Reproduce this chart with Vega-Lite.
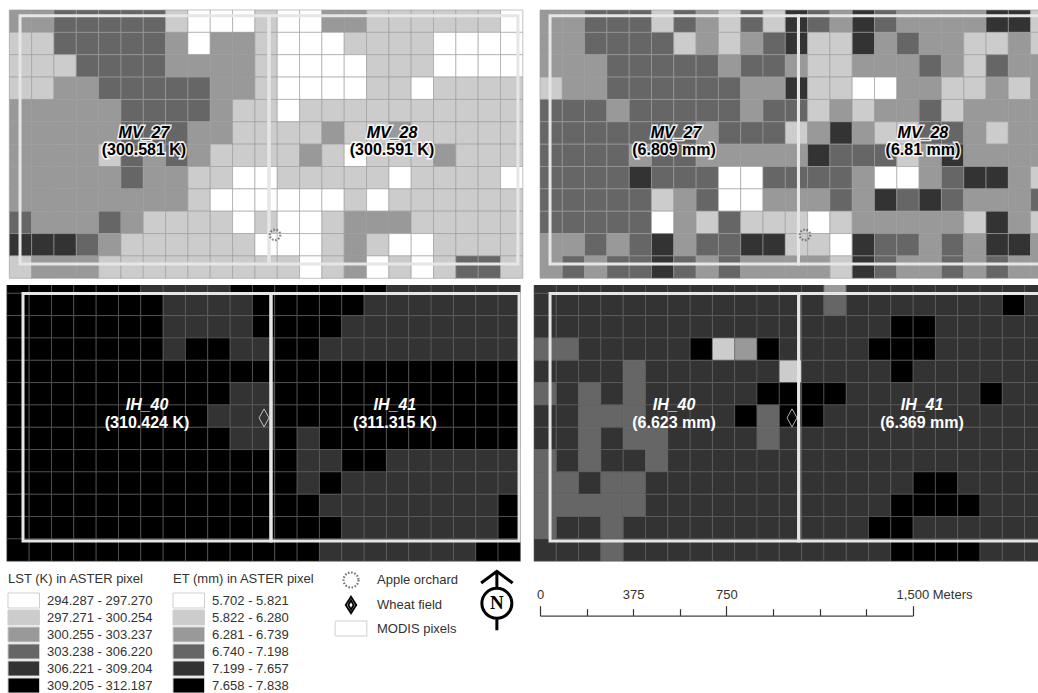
{"$schema":"https://vega.github.io/schema/vega-lite/v6.json","padding":0,"background":"white","spacing":0,"config":{"view":{"stroke":null},"font":"Liberation Sans","concat":{"spacing":0}},
"datasets":{
"p1":[
{"c":0,"r":0,"k":2},{"c":1,"r":0,"k":2},{"c":2,"r":0,"k":3},{"c":3,"r":0,"k":3},{"c":4,"r":0,"k":3},{"c":5,"r":0,"k":3},{"c":6,"r":0,"k":3},{"c":7,"r":0,"k":1},{"c":8,"r":0,"k":0},{"c":9,"r":0,"k":0},{"c":10,"r":0,"k":0},{"c":11,"r":0,"k":1},{"c":12,"r":0,"k":0},{"c":13,"r":0,"k":0},{"c":14,"r":0,"k":2},{"c":15,"r":0,"k":2},{"c":16,"r":0,"k":1},{"c":17,"r":0,"k":1},{"c":18,"r":0,"k":1},{"c":19,"r":0,"k":1},{"c":20,"r":0,"k":1},{"c":21,"r":0,"k":1},{"c":22,"r":0,"k":0},
{"c":0,"r":1,"k":1},{"c":1,"r":1,"k":1},{"c":2,"r":1,"k":3},{"c":3,"r":1,"k":3},{"c":4,"r":1,"k":3},{"c":5,"r":1,"k":3},{"c":6,"r":1,"k":3},{"c":7,"r":1,"k":2},{"c":8,"r":1,"k":0},{"c":9,"r":1,"k":2},{"c":10,"r":1,"k":2},{"c":11,"r":1,"k":1},{"c":12,"r":1,"k":0},{"c":13,"r":1,"k":0},{"c":14,"r":1,"k":0},{"c":15,"r":1,"k":1},{"c":16,"r":1,"k":1},{"c":17,"r":1,"k":1},{"c":18,"r":1,"k":1},{"c":19,"r":1,"k":0},{"c":20,"r":1,"k":0},{"c":21,"r":1,"k":0},{"c":22,"r":1,"k":0},
{"c":0,"r":2,"k":1},{"c":1,"r":2,"k":1},{"c":2,"r":2,"k":1},{"c":3,"r":2,"k":3},{"c":4,"r":2,"k":3},{"c":5,"r":2,"k":3},{"c":6,"r":2,"k":3},{"c":7,"r":2,"k":2},{"c":8,"r":2,"k":2},{"c":9,"r":2,"k":2},{"c":10,"r":2,"k":2},{"c":11,"r":2,"k":1},{"c":12,"r":2,"k":0},{"c":13,"r":2,"k":0},{"c":14,"r":2,"k":0},{"c":15,"r":2,"k":0},{"c":16,"r":2,"k":1},{"c":17,"r":2,"k":1},{"c":18,"r":2,"k":1},{"c":19,"r":2,"k":0},{"c":20,"r":2,"k":0},{"c":21,"r":2,"k":0},{"c":22,"r":2,"k":0},
{"c":0,"r":3,"k":1},{"c":1,"r":3,"k":1},{"c":2,"r":3,"k":2},{"c":3,"r":3,"k":2},{"c":4,"r":3,"k":3},{"c":5,"r":3,"k":3},{"c":6,"r":3,"k":3},{"c":7,"r":3,"k":3},{"c":8,"r":3,"k":3},{"c":9,"r":3,"k":2},{"c":10,"r":3,"k":2},{"c":11,"r":3,"k":1},{"c":12,"r":3,"k":0},{"c":13,"r":3,"k":0},{"c":14,"r":3,"k":0},{"c":15,"r":3,"k":0},{"c":16,"r":3,"k":1},{"c":17,"r":3,"k":1},{"c":18,"r":3,"k":0},{"c":19,"r":3,"k":1},{"c":20,"r":3,"k":1},{"c":21,"r":3,"k":1},{"c":22,"r":3,"k":1},
{"c":0,"r":4,"k":2},{"c":1,"r":4,"k":2},{"c":2,"r":4,"k":2},{"c":3,"r":4,"k":2},{"c":4,"r":4,"k":2},{"c":5,"r":4,"k":3},{"c":6,"r":4,"k":3},{"c":7,"r":4,"k":3},{"c":8,"r":4,"k":3},{"c":9,"r":4,"k":2},{"c":10,"r":4,"k":1},{"c":11,"r":4,"k":1},{"c":12,"r":4,"k":0},{"c":13,"r":4,"k":1},{"c":14,"r":4,"k":1},{"c":15,"r":4,"k":1},{"c":16,"r":4,"k":1},{"c":17,"r":4,"k":1},{"c":18,"r":4,"k":1},{"c":19,"r":4,"k":1},{"c":20,"r":4,"k":1},{"c":21,"r":4,"k":1},{"c":22,"r":4,"k":1},
{"c":0,"r":5,"k":2},{"c":1,"r":5,"k":2},{"c":2,"r":5,"k":2},{"c":3,"r":5,"k":2},{"c":4,"r":5,"k":2},{"c":5,"r":5,"k":3},{"c":6,"r":5,"k":3},{"c":7,"r":5,"k":3},{"c":8,"r":5,"k":2},{"c":9,"r":5,"k":2},{"c":10,"r":5,"k":1},{"c":11,"r":5,"k":1},{"c":12,"r":5,"k":1},{"c":13,"r":5,"k":1},{"c":14,"r":5,"k":2},{"c":15,"r":5,"k":1},{"c":16,"r":5,"k":1},{"c":17,"r":5,"k":2},{"c":18,"r":5,"k":1},{"c":19,"r":5,"k":1},{"c":20,"r":5,"k":1},{"c":21,"r":5,"k":1},{"c":22,"r":5,"k":1},
{"c":0,"r":6,"k":2},{"c":1,"r":6,"k":2},{"c":2,"r":6,"k":2},{"c":3,"r":6,"k":2},{"c":4,"r":6,"k":1},{"c":5,"r":6,"k":3},{"c":6,"r":6,"k":2},{"c":7,"r":6,"k":3},{"c":8,"r":6,"k":2},{"c":9,"r":6,"k":1},{"c":10,"r":6,"k":1},{"c":11,"r":6,"k":1},{"c":12,"r":6,"k":1},{"c":13,"r":6,"k":2},{"c":14,"r":6,"k":1},{"c":15,"r":6,"k":0},{"c":16,"r":6,"k":1},{"c":17,"r":6,"k":1},{"c":18,"r":6,"k":1},{"c":19,"r":6,"k":2},{"c":20,"r":6,"k":1},{"c":21,"r":6,"k":1},{"c":22,"r":6,"k":1},
{"c":0,"r":7,"k":2},{"c":1,"r":7,"k":2},{"c":2,"r":7,"k":2},{"c":3,"r":7,"k":2},{"c":4,"r":7,"k":2},{"c":5,"r":7,"k":3},{"c":6,"r":7,"k":2},{"c":7,"r":7,"k":2},{"c":8,"r":7,"k":1},{"c":9,"r":7,"k":1},{"c":10,"r":7,"k":0},{"c":11,"r":7,"k":0},{"c":12,"r":7,"k":1},{"c":13,"r":7,"k":1},{"c":14,"r":7,"k":1},{"c":15,"r":7,"k":1},{"c":16,"r":7,"k":1},{"c":17,"r":7,"k":0},{"c":18,"r":7,"k":1},{"c":19,"r":7,"k":1},{"c":20,"r":7,"k":1},{"c":21,"r":7,"k":1},{"c":22,"r":7,"k":0},
{"c":0,"r":8,"k":2},{"c":1,"r":8,"k":2},{"c":2,"r":8,"k":2},{"c":3,"r":8,"k":2},{"c":4,"r":8,"k":2},{"c":5,"r":8,"k":2},{"c":6,"r":8,"k":2},{"c":7,"r":8,"k":2},{"c":8,"r":8,"k":1},{"c":9,"r":8,"k":0},{"c":10,"r":8,"k":0},{"c":11,"r":8,"k":0},{"c":12,"r":8,"k":0},{"c":13,"r":8,"k":0},{"c":14,"r":8,"k":0},{"c":15,"r":8,"k":1},{"c":16,"r":8,"k":0},{"c":17,"r":8,"k":1},{"c":18,"r":8,"k":1},{"c":19,"r":8,"k":1},{"c":20,"r":8,"k":1},{"c":21,"r":8,"k":1},{"c":22,"r":8,"k":1},
{"c":0,"r":9,"k":3},{"c":1,"r":9,"k":2},{"c":2,"r":9,"k":2},{"c":3,"r":9,"k":2},{"c":4,"r":9,"k":3},{"c":5,"r":9,"k":2},{"c":6,"r":9,"k":1},{"c":7,"r":9,"k":1},{"c":8,"r":9,"k":1},{"c":9,"r":9,"k":1},{"c":10,"r":9,"k":0},{"c":11,"r":9,"k":1},{"c":12,"r":9,"k":0},{"c":13,"r":9,"k":0},{"c":14,"r":9,"k":1},{"c":15,"r":9,"k":2},{"c":16,"r":9,"k":2},{"c":17,"r":9,"k":2},{"c":18,"r":9,"k":1},{"c":19,"r":9,"k":1},{"c":20,"r":9,"k":1},{"c":21,"r":9,"k":1},{"c":22,"r":9,"k":1},
{"c":0,"r":10,"k":4},{"c":1,"r":10,"k":4},{"c":2,"r":10,"k":4},{"c":3,"r":10,"k":3},{"c":4,"r":10,"k":2},{"c":5,"r":10,"k":1},{"c":6,"r":10,"k":1},{"c":7,"r":10,"k":1},{"c":8,"r":10,"k":1},{"c":9,"r":10,"k":1},{"c":10,"r":10,"k":1},{"c":11,"r":10,"k":0},{"c":12,"r":10,"k":0},{"c":13,"r":10,"k":0},{"c":14,"r":10,"k":1},{"c":15,"r":10,"k":2},{"c":16,"r":10,"k":1},{"c":17,"r":10,"k":0},{"c":18,"r":10,"k":0},{"c":19,"r":10,"k":1},{"c":20,"r":10,"k":1},{"c":21,"r":10,"k":1},{"c":22,"r":10,"k":1},
{"c":0,"r":11,"k":1},{"c":1,"r":11,"k":2},{"c":2,"r":11,"k":2},{"c":3,"r":11,"k":2},{"c":4,"r":11,"k":1},{"c":5,"r":11,"k":1},{"c":6,"r":11,"k":1},{"c":7,"r":11,"k":1},{"c":8,"r":11,"k":1},{"c":9,"r":11,"k":1},{"c":10,"r":11,"k":1},{"c":11,"r":11,"k":1},{"c":12,"r":11,"k":1},{"c":13,"r":11,"k":0},{"c":14,"r":11,"k":1},{"c":15,"r":11,"k":2},{"c":16,"r":11,"k":0},{"c":17,"r":11,"k":1},{"c":18,"r":11,"k":0},{"c":19,"r":11,"k":1},{"c":20,"r":11,"k":3},{"c":21,"r":11,"k":3},{"c":22,"r":11,"k":1}],
"p2":[
{"c":0,"r":0,"k":2},{"c":1,"r":0,"k":2},{"c":2,"r":0,"k":3},{"c":3,"r":0,"k":3},{"c":4,"r":0,"k":3},{"c":5,"r":0,"k":1},{"c":6,"r":0,"k":3},{"c":7,"r":0,"k":2},{"c":8,"r":0,"k":1},{"c":9,"r":0,"k":3},{"c":10,"r":0,"k":1},{"c":11,"r":0,"k":4},{"c":12,"r":0,"k":3},{"c":13,"r":0,"k":2},{"c":14,"r":0,"k":4},{"c":15,"r":0,"k":3},{"c":16,"r":0,"k":2},{"c":17,"r":0,"k":2},{"c":18,"r":0,"k":2},{"c":19,"r":0,"k":2},{"c":20,"r":0,"k":4},{"c":21,"r":0,"k":4},{"c":22,"r":0,"k":1},
{"c":0,"r":1,"k":2},{"c":1,"r":1,"k":2},{"c":2,"r":1,"k":3},{"c":3,"r":1,"k":3},{"c":4,"r":1,"k":3},{"c":5,"r":1,"k":3},{"c":6,"r":1,"k":1},{"c":7,"r":1,"k":2},{"c":8,"r":1,"k":1},{"c":9,"r":1,"k":2},{"c":10,"r":1,"k":3},{"c":11,"r":1,"k":4},{"c":12,"r":1,"k":1},{"c":13,"r":1,"k":1},{"c":14,"r":1,"k":4},{"c":15,"r":1,"k":2},{"c":16,"r":1,"k":3},{"c":17,"r":1,"k":2},{"c":18,"r":1,"k":2},{"c":19,"r":1,"k":1},{"c":20,"r":1,"k":1},{"c":21,"r":1,"k":2},{"c":22,"r":1,"k":1},
{"c":0,"r":2,"k":2},{"c":1,"r":2,"k":2},{"c":2,"r":2,"k":2},{"c":3,"r":2,"k":3},{"c":4,"r":2,"k":3},{"c":5,"r":2,"k":3},{"c":6,"r":2,"k":3},{"c":7,"r":2,"k":3},{"c":8,"r":2,"k":2},{"c":9,"r":2,"k":3},{"c":10,"r":2,"k":3},{"c":11,"r":2,"k":2},{"c":12,"r":2,"k":1},{"c":13,"r":2,"k":1},{"c":14,"r":2,"k":2},{"c":15,"r":2,"k":2},{"c":16,"r":2,"k":2},{"c":17,"r":2,"k":3},{"c":18,"r":2,"k":2},{"c":19,"r":2,"k":1},{"c":20,"r":2,"k":3},{"c":21,"r":2,"k":2},{"c":22,"r":2,"k":2},
{"c":0,"r":3,"k":1},{"c":1,"r":3,"k":2},{"c":2,"r":3,"k":2},{"c":3,"r":3,"k":3},{"c":4,"r":3,"k":3},{"c":5,"r":3,"k":3},{"c":6,"r":3,"k":3},{"c":7,"r":3,"k":3},{"c":8,"r":3,"k":3},{"c":9,"r":3,"k":2},{"c":10,"r":3,"k":2},{"c":11,"r":3,"k":4},{"c":12,"r":3,"k":1},{"c":13,"r":3,"k":1},{"c":14,"r":3,"k":0},{"c":15,"r":3,"k":0},{"c":16,"r":3,"k":2},{"c":17,"r":3,"k":2},{"c":18,"r":3,"k":1},{"c":19,"r":3,"k":1},{"c":20,"r":3,"k":2},{"c":21,"r":3,"k":1},{"c":22,"r":3,"k":2},
{"c":0,"r":4,"k":3},{"c":1,"r":4,"k":3},{"c":2,"r":4,"k":3},{"c":3,"r":4,"k":2},{"c":4,"r":4,"k":3},{"c":5,"r":4,"k":3},{"c":6,"r":4,"k":3},{"c":7,"r":4,"k":3},{"c":8,"r":4,"k":3},{"c":9,"r":4,"k":2},{"c":10,"r":4,"k":3},{"c":11,"r":4,"k":3},{"c":12,"r":4,"k":1},{"c":13,"r":4,"k":2},{"c":14,"r":4,"k":1},{"c":15,"r":4,"k":2},{"c":16,"r":4,"k":2},{"c":17,"r":4,"k":3},{"c":18,"r":4,"k":1},{"c":19,"r":4,"k":2},{"c":20,"r":4,"k":2},{"c":21,"r":4,"k":2},{"c":22,"r":4,"k":2},
{"c":0,"r":5,"k":3},{"c":1,"r":5,"k":3},{"c":2,"r":5,"k":3},{"c":3,"r":5,"k":3},{"c":4,"r":5,"k":3},{"c":5,"r":5,"k":3},{"c":6,"r":5,"k":3},{"c":7,"r":5,"k":2},{"c":8,"r":5,"k":3},{"c":9,"r":5,"k":3},{"c":10,"r":5,"k":3},{"c":11,"r":5,"k":1},{"c":12,"r":5,"k":2},{"c":13,"r":5,"k":4},{"c":14,"r":5,"k":2},{"c":15,"r":5,"k":1},{"c":16,"r":5,"k":1},{"c":17,"r":5,"k":3},{"c":18,"r":5,"k":3},{"c":19,"r":5,"k":2},{"c":20,"r":5,"k":1},{"c":21,"r":5,"k":2},{"c":22,"r":5,"k":2},
{"c":0,"r":6,"k":3},{"c":1,"r":6,"k":3},{"c":2,"r":6,"k":3},{"c":3,"r":6,"k":3},{"c":4,"r":6,"k":2},{"c":5,"r":6,"k":3},{"c":6,"r":6,"k":3},{"c":7,"r":6,"k":2},{"c":8,"r":6,"k":2},{"c":9,"r":6,"k":2},{"c":10,"r":6,"k":2},{"c":11,"r":6,"k":2},{"c":12,"r":6,"k":4},{"c":13,"r":6,"k":3},{"c":14,"r":6,"k":3},{"c":15,"r":6,"k":3},{"c":16,"r":6,"k":1},{"c":17,"r":6,"k":2},{"c":18,"r":6,"k":4},{"c":19,"r":6,"k":2},{"c":20,"r":6,"k":2},{"c":21,"r":6,"k":2},{"c":22,"r":6,"k":2},
{"c":0,"r":7,"k":3},{"c":1,"r":7,"k":3},{"c":2,"r":7,"k":3},{"c":3,"r":7,"k":3},{"c":4,"r":7,"k":4},{"c":5,"r":7,"k":3},{"c":6,"r":7,"k":3},{"c":7,"r":7,"k":3},{"c":8,"r":7,"k":0},{"c":9,"r":7,"k":0},{"c":10,"r":7,"k":3},{"c":11,"r":7,"k":3},{"c":12,"r":7,"k":3},{"c":13,"r":7,"k":3},{"c":14,"r":7,"k":2},{"c":15,"r":7,"k":0},{"c":16,"r":7,"k":0},{"c":17,"r":7,"k":2},{"c":18,"r":7,"k":3},{"c":19,"r":7,"k":4},{"c":20,"r":7,"k":4},{"c":21,"r":7,"k":2},{"c":22,"r":7,"k":1},
{"c":0,"r":8,"k":3},{"c":1,"r":8,"k":3},{"c":2,"r":8,"k":3},{"c":3,"r":8,"k":3},{"c":4,"r":8,"k":3},{"c":5,"r":8,"k":1},{"c":6,"r":8,"k":2},{"c":7,"r":8,"k":3},{"c":8,"r":8,"k":0},{"c":9,"r":8,"k":0},{"c":10,"r":8,"k":2},{"c":11,"r":8,"k":2},{"c":12,"r":8,"k":2},{"c":13,"r":8,"k":3},{"c":14,"r":8,"k":2},{"c":15,"r":8,"k":4},{"c":16,"r":8,"k":3},{"c":17,"r":8,"k":4},{"c":18,"r":8,"k":3},{"c":19,"r":8,"k":2},{"c":20,"r":8,"k":2},{"c":21,"r":8,"k":2},{"c":22,"r":8,"k":3},
{"c":0,"r":9,"k":3},{"c":1,"r":9,"k":3},{"c":2,"r":9,"k":3},{"c":3,"r":9,"k":3},{"c":4,"r":9,"k":3},{"c":5,"r":9,"k":0},{"c":6,"r":9,"k":2},{"c":7,"r":9,"k":1},{"c":8,"r":9,"k":3},{"c":9,"r":9,"k":1},{"c":10,"r":9,"k":1},{"c":11,"r":9,"k":1},{"c":12,"r":9,"k":0},{"c":13,"r":9,"k":1},{"c":14,"r":9,"k":2},{"c":15,"r":9,"k":2},{"c":16,"r":9,"k":2},{"c":17,"r":9,"k":2},{"c":18,"r":9,"k":2},{"c":19,"r":9,"k":1},{"c":20,"r":9,"k":4},{"c":21,"r":9,"k":2},{"c":22,"r":9,"k":1},
{"c":0,"r":10,"k":2},{"c":1,"r":10,"k":2},{"c":2,"r":10,"k":3},{"c":3,"r":10,"k":2},{"c":4,"r":10,"k":3},{"c":5,"r":10,"k":4},{"c":6,"r":10,"k":2},{"c":7,"r":10,"k":3},{"c":8,"r":10,"k":3},{"c":9,"r":10,"k":4},{"c":10,"r":10,"k":4},{"c":11,"r":10,"k":1},{"c":12,"r":10,"k":1},{"c":13,"r":10,"k":0},{"c":14,"r":10,"k":4},{"c":15,"r":10,"k":3},{"c":16,"r":10,"k":3},{"c":17,"r":10,"k":2},{"c":18,"r":10,"k":3},{"c":19,"r":10,"k":2},{"c":20,"r":10,"k":4},{"c":21,"r":10,"k":4},{"c":22,"r":10,"k":2},
{"c":0,"r":11,"k":2},{"c":1,"r":11,"k":3},{"c":2,"r":11,"k":2},{"c":3,"r":11,"k":3},{"c":4,"r":11,"k":3},{"c":5,"r":11,"k":4},{"c":6,"r":11,"k":3},{"c":7,"r":11,"k":2},{"c":8,"r":11,"k":3},{"c":9,"r":11,"k":2},{"c":10,"r":11,"k":2},{"c":11,"r":11,"k":2},{"c":12,"r":11,"k":2},{"c":13,"r":11,"k":1},{"c":14,"r":11,"k":4},{"c":15,"r":11,"k":3},{"c":16,"r":11,"k":2},{"c":17,"r":11,"k":2},{"c":18,"r":11,"k":3},{"c":19,"r":11,"k":2},{"c":20,"r":11,"k":3},{"c":21,"r":11,"k":2},{"c":22,"r":11,"k":2}],
"p3":[
{"c":0,"r":-1,"k":5},{"c":1,"r":-1,"k":5},{"c":2,"r":-1,"k":5},{"c":3,"r":-1,"k":5},{"c":4,"r":-1,"k":5},{"c":5,"r":-1,"k":5},{"c":6,"r":-1,"k":4},{"c":7,"r":-1,"k":4},{"c":8,"r":-1,"k":4},{"c":9,"r":-1,"k":4},{"c":10,"r":-1,"k":5},{"c":11,"r":-1,"k":5},{"c":12,"r":-1,"k":5},{"c":13,"r":-1,"k":5},{"c":14,"r":-1,"k":5},{"c":15,"r":-1,"k":5},{"c":16,"r":-1,"k":5},{"c":17,"r":-1,"k":4},{"c":18,"r":-1,"k":4},{"c":19,"r":-1,"k":4},{"c":20,"r":-1,"k":4},{"c":21,"r":-1,"k":4},{"c":22,"r":-1,"k":4},
{"c":0,"r":0,"k":5},{"c":1,"r":0,"k":5},{"c":2,"r":0,"k":5},{"c":3,"r":0,"k":5},{"c":4,"r":0,"k":5},{"c":5,"r":0,"k":5},{"c":6,"r":0,"k":5},{"c":7,"r":0,"k":4},{"c":8,"r":0,"k":4},{"c":9,"r":0,"k":4},{"c":10,"r":0,"k":4},{"c":11,"r":0,"k":5},{"c":12,"r":0,"k":5},{"c":13,"r":0,"k":5},{"c":14,"r":0,"k":5},{"c":15,"r":0,"k":5},{"c":16,"r":0,"k":4},{"c":17,"r":0,"k":4},{"c":18,"r":0,"k":4},{"c":19,"r":0,"k":4},{"c":20,"r":0,"k":4},{"c":21,"r":0,"k":4},{"c":22,"r":0,"k":4},
{"c":0,"r":1,"k":5},{"c":1,"r":1,"k":5},{"c":2,"r":1,"k":5},{"c":3,"r":1,"k":5},{"c":4,"r":1,"k":5},{"c":5,"r":1,"k":5},{"c":6,"r":1,"k":5},{"c":7,"r":1,"k":4},{"c":8,"r":1,"k":4},{"c":9,"r":1,"k":4},{"c":10,"r":1,"k":4},{"c":11,"r":1,"k":5},{"c":12,"r":1,"k":5},{"c":13,"r":1,"k":5},{"c":14,"r":1,"k":5},{"c":15,"r":1,"k":4},{"c":16,"r":1,"k":4},{"c":17,"r":1,"k":4},{"c":18,"r":1,"k":4},{"c":19,"r":1,"k":4},{"c":20,"r":1,"k":4},{"c":21,"r":1,"k":4},{"c":22,"r":1,"k":4},
{"c":0,"r":2,"k":5},{"c":1,"r":2,"k":5},{"c":2,"r":2,"k":5},{"c":3,"r":2,"k":5},{"c":4,"r":2,"k":5},{"c":5,"r":2,"k":5},{"c":6,"r":2,"k":5},{"c":7,"r":2,"k":4},{"c":8,"r":2,"k":5},{"c":9,"r":2,"k":5},{"c":10,"r":2,"k":4},{"c":11,"r":2,"k":4},{"c":12,"r":2,"k":5},{"c":13,"r":2,"k":5},{"c":14,"r":2,"k":4},{"c":15,"r":2,"k":4},{"c":16,"r":2,"k":4},{"c":17,"r":2,"k":4},{"c":18,"r":2,"k":4},{"c":19,"r":2,"k":4},{"c":20,"r":2,"k":4},{"c":21,"r":2,"k":4},{"c":22,"r":2,"k":4},
{"c":0,"r":3,"k":5},{"c":1,"r":3,"k":5},{"c":2,"r":3,"k":5},{"c":3,"r":3,"k":5},{"c":4,"r":3,"k":5},{"c":5,"r":3,"k":5},{"c":6,"r":3,"k":5},{"c":7,"r":3,"k":5},{"c":8,"r":3,"k":5},{"c":9,"r":3,"k":5},{"c":10,"r":3,"k":5},{"c":11,"r":3,"k":5},{"c":12,"r":3,"k":5},{"c":13,"r":3,"k":5},{"c":14,"r":3,"k":5},{"c":15,"r":3,"k":5},{"c":16,"r":3,"k":5},{"c":17,"r":3,"k":5},{"c":18,"r":3,"k":5},{"c":19,"r":3,"k":5},{"c":20,"r":3,"k":5},{"c":21,"r":3,"k":5},{"c":22,"r":3,"k":5},
{"c":0,"r":4,"k":5},{"c":1,"r":4,"k":5},{"c":2,"r":4,"k":5},{"c":3,"r":4,"k":5},{"c":4,"r":4,"k":5},{"c":5,"r":4,"k":5},{"c":6,"r":4,"k":5},{"c":7,"r":4,"k":5},{"c":8,"r":4,"k":5},{"c":9,"r":4,"k":5},{"c":10,"r":4,"k":4},{"c":11,"r":4,"k":4},{"c":12,"r":4,"k":5},{"c":13,"r":4,"k":5},{"c":14,"r":4,"k":5},{"c":15,"r":4,"k":5},{"c":16,"r":4,"k":5},{"c":17,"r":4,"k":5},{"c":18,"r":4,"k":5},{"c":19,"r":4,"k":5},{"c":20,"r":4,"k":5},{"c":21,"r":4,"k":5},{"c":22,"r":4,"k":5},
{"c":0,"r":5,"k":5},{"c":1,"r":5,"k":5},{"c":2,"r":5,"k":5},{"c":3,"r":5,"k":5},{"c":4,"r":5,"k":5},{"c":5,"r":5,"k":5},{"c":6,"r":5,"k":5},{"c":7,"r":5,"k":5},{"c":8,"r":5,"k":5},{"c":9,"r":5,"k":4},{"c":10,"r":5,"k":4},{"c":11,"r":5,"k":4},{"c":12,"r":5,"k":5},{"c":13,"r":5,"k":5},{"c":14,"r":5,"k":5},{"c":15,"r":5,"k":5},{"c":16,"r":5,"k":5},{"c":17,"r":5,"k":5},{"c":18,"r":5,"k":5},{"c":19,"r":5,"k":5},{"c":20,"r":5,"k":5},{"c":21,"r":5,"k":5},{"c":22,"r":5,"k":5},
{"c":0,"r":6,"k":5},{"c":1,"r":6,"k":5},{"c":2,"r":6,"k":5},{"c":3,"r":6,"k":5},{"c":4,"r":6,"k":5},{"c":5,"r":6,"k":5},{"c":6,"r":6,"k":5},{"c":7,"r":6,"k":5},{"c":8,"r":6,"k":5},{"c":9,"r":6,"k":5},{"c":10,"r":6,"k":4},{"c":11,"r":6,"k":4},{"c":12,"r":6,"k":5},{"c":13,"r":6,"k":4},{"c":14,"r":6,"k":5},{"c":15,"r":6,"k":5},{"c":16,"r":6,"k":5},{"c":17,"r":6,"k":5},{"c":18,"r":6,"k":5},{"c":19,"r":6,"k":5},{"c":20,"r":6,"k":5},{"c":21,"r":6,"k":5},{"c":22,"r":6,"k":5},
{"c":0,"r":7,"k":5},{"c":1,"r":7,"k":5},{"c":2,"r":7,"k":5},{"c":3,"r":7,"k":5},{"c":4,"r":7,"k":5},{"c":5,"r":7,"k":5},{"c":6,"r":7,"k":5},{"c":7,"r":7,"k":5},{"c":8,"r":7,"k":5},{"c":9,"r":7,"k":5},{"c":10,"r":7,"k":5},{"c":11,"r":7,"k":5},{"c":12,"r":7,"k":5},{"c":13,"r":7,"k":4},{"c":14,"r":7,"k":4},{"c":15,"r":7,"k":5},{"c":16,"r":7,"k":5},{"c":17,"r":7,"k":4},{"c":18,"r":7,"k":4},{"c":19,"r":7,"k":4},{"c":20,"r":7,"k":4},{"c":21,"r":7,"k":4},{"c":22,"r":7,"k":4},
{"c":0,"r":8,"k":5},{"c":1,"r":8,"k":5},{"c":2,"r":8,"k":5},{"c":3,"r":8,"k":5},{"c":4,"r":8,"k":5},{"c":5,"r":8,"k":5},{"c":6,"r":8,"k":5},{"c":7,"r":8,"k":5},{"c":8,"r":8,"k":5},{"c":9,"r":8,"k":5},{"c":10,"r":8,"k":5},{"c":11,"r":8,"k":5},{"c":12,"r":8,"k":5},{"c":13,"r":8,"k":4},{"c":14,"r":8,"k":5},{"c":15,"r":8,"k":4},{"c":16,"r":8,"k":4},{"c":17,"r":8,"k":4},{"c":18,"r":8,"k":4},{"c":19,"r":8,"k":4},{"c":20,"r":8,"k":4},{"c":21,"r":8,"k":4},{"c":22,"r":8,"k":4},
{"c":0,"r":9,"k":5},{"c":1,"r":9,"k":5},{"c":2,"r":9,"k":5},{"c":3,"r":9,"k":5},{"c":4,"r":9,"k":5},{"c":5,"r":9,"k":5},{"c":6,"r":9,"k":5},{"c":7,"r":9,"k":5},{"c":8,"r":9,"k":5},{"c":9,"r":9,"k":5},{"c":10,"r":9,"k":5},{"c":11,"r":9,"k":5},{"c":12,"r":9,"k":5},{"c":13,"r":9,"k":5},{"c":14,"r":9,"k":4},{"c":15,"r":9,"k":4},{"c":16,"r":9,"k":4},{"c":17,"r":9,"k":4},{"c":18,"r":9,"k":4},{"c":19,"r":9,"k":4},{"c":20,"r":9,"k":4},{"c":21,"r":9,"k":4},{"c":22,"r":9,"k":5},
{"c":0,"r":10,"k":5},{"c":1,"r":10,"k":5},{"c":2,"r":10,"k":5},{"c":3,"r":10,"k":5},{"c":4,"r":10,"k":5},{"c":5,"r":10,"k":5},{"c":6,"r":10,"k":5},{"c":7,"r":10,"k":5},{"c":8,"r":10,"k":5},{"c":9,"r":10,"k":5},{"c":10,"r":10,"k":5},{"c":11,"r":10,"k":5},{"c":12,"r":10,"k":5},{"c":13,"r":10,"k":5},{"c":14,"r":10,"k":5},{"c":15,"r":10,"k":4},{"c":16,"r":10,"k":4},{"c":17,"r":10,"k":4},{"c":18,"r":10,"k":4},{"c":19,"r":10,"k":4},{"c":20,"r":10,"k":4},{"c":21,"r":10,"k":4},{"c":22,"r":10,"k":5},
{"c":0,"r":11,"k":5},{"c":1,"r":11,"k":5},{"c":2,"r":11,"k":5},{"c":3,"r":11,"k":5},{"c":4,"r":11,"k":5},{"c":5,"r":11,"k":5},{"c":6,"r":11,"k":5},{"c":7,"r":11,"k":5},{"c":8,"r":11,"k":5},{"c":9,"r":11,"k":5},{"c":10,"r":11,"k":5},{"c":11,"r":11,"k":5},{"c":12,"r":11,"k":5},{"c":13,"r":11,"k":5},{"c":14,"r":11,"k":4},{"c":15,"r":11,"k":4},{"c":16,"r":11,"k":4},{"c":17,"r":11,"k":4},{"c":18,"r":11,"k":4},{"c":19,"r":11,"k":4},{"c":20,"r":11,"k":4},{"c":21,"r":11,"k":5},{"c":22,"r":11,"k":5}],
"p4":[
{"c":0,"r":-1,"k":4},{"c":1,"r":-1,"k":4},{"c":2,"r":-1,"k":4},{"c":3,"r":-1,"k":4},{"c":4,"r":-1,"k":4},{"c":5,"r":-1,"k":4},{"c":6,"r":-1,"k":4},{"c":7,"r":-1,"k":4},{"c":8,"r":-1,"k":4},{"c":9,"r":-1,"k":4},{"c":10,"r":-1,"k":4},{"c":11,"r":-1,"k":4},{"c":12,"r":-1,"k":4},{"c":13,"r":-1,"k":2},{"c":14,"r":-1,"k":4},{"c":15,"r":-1,"k":4},{"c":16,"r":-1,"k":4},{"c":17,"r":-1,"k":4},{"c":18,"r":-1,"k":4},{"c":19,"r":-1,"k":4},{"c":20,"r":-1,"k":4},{"c":21,"r":-1,"k":4},{"c":22,"r":-1,"k":4},
{"c":0,"r":0,"k":4},{"c":1,"r":0,"k":4},{"c":2,"r":0,"k":4},{"c":3,"r":0,"k":4},{"c":4,"r":0,"k":4},{"c":5,"r":0,"k":4},{"c":6,"r":0,"k":4},{"c":7,"r":0,"k":4},{"c":8,"r":0,"k":4},{"c":9,"r":0,"k":4},{"c":10,"r":0,"k":4},{"c":11,"r":0,"k":4},{"c":12,"r":0,"k":4},{"c":13,"r":0,"k":3},{"c":14,"r":0,"k":4},{"c":15,"r":0,"k":4},{"c":16,"r":0,"k":4},{"c":17,"r":0,"k":4},{"c":18,"r":0,"k":4},{"c":19,"r":0,"k":4},{"c":20,"r":0,"k":4},{"c":21,"r":0,"k":5},{"c":22,"r":0,"k":4},
{"c":0,"r":1,"k":4},{"c":1,"r":1,"k":4},{"c":2,"r":1,"k":4},{"c":3,"r":1,"k":4},{"c":4,"r":1,"k":4},{"c":5,"r":1,"k":4},{"c":6,"r":1,"k":4},{"c":7,"r":1,"k":4},{"c":8,"r":1,"k":4},{"c":9,"r":1,"k":4},{"c":10,"r":1,"k":4},{"c":11,"r":1,"k":4},{"c":12,"r":1,"k":4},{"c":13,"r":1,"k":4},{"c":14,"r":1,"k":4},{"c":15,"r":1,"k":4},{"c":16,"r":1,"k":5},{"c":17,"r":1,"k":5},{"c":18,"r":1,"k":4},{"c":19,"r":1,"k":4},{"c":20,"r":1,"k":4},{"c":21,"r":1,"k":4},{"c":22,"r":1,"k":4},
{"c":0,"r":2,"k":3},{"c":1,"r":2,"k":3},{"c":2,"r":2,"k":4},{"c":3,"r":2,"k":4},{"c":4,"r":2,"k":4},{"c":5,"r":2,"k":4},{"c":6,"r":2,"k":4},{"c":7,"r":2,"k":5},{"c":8,"r":2,"k":1},{"c":9,"r":2,"k":2},{"c":10,"r":2,"k":5},{"c":11,"r":2,"k":4},{"c":12,"r":2,"k":4},{"c":13,"r":2,"k":4},{"c":14,"r":2,"k":4},{"c":15,"r":2,"k":5},{"c":16,"r":2,"k":5},{"c":17,"r":2,"k":5},{"c":18,"r":2,"k":4},{"c":19,"r":2,"k":4},{"c":20,"r":2,"k":4},{"c":21,"r":2,"k":4},{"c":22,"r":2,"k":4},
{"c":0,"r":3,"k":4},{"c":1,"r":3,"k":4},{"c":2,"r":3,"k":4},{"c":3,"r":3,"k":4},{"c":4,"r":3,"k":3},{"c":5,"r":3,"k":4},{"c":6,"r":3,"k":4},{"c":7,"r":3,"k":4},{"c":8,"r":3,"k":4},{"c":9,"r":3,"k":4},{"c":10,"r":3,"k":4},{"c":11,"r":3,"k":1},{"c":12,"r":3,"k":4},{"c":13,"r":3,"k":4},{"c":14,"r":3,"k":4},{"c":15,"r":3,"k":4},{"c":16,"r":3,"k":5},{"c":17,"r":3,"k":4},{"c":18,"r":3,"k":4},{"c":19,"r":3,"k":4},{"c":20,"r":3,"k":4},{"c":21,"r":3,"k":4},{"c":22,"r":3,"k":4},
{"c":0,"r":4,"k":3},{"c":1,"r":4,"k":4},{"c":2,"r":4,"k":3},{"c":3,"r":4,"k":4},{"c":4,"r":4,"k":3},{"c":5,"r":4,"k":4},{"c":6,"r":4,"k":4},{"c":7,"r":4,"k":4},{"c":8,"r":4,"k":4},{"c":9,"r":4,"k":4},{"c":10,"r":4,"k":5},{"c":11,"r":4,"k":5},{"c":12,"r":4,"k":5},{"c":13,"r":4,"k":5},{"c":14,"r":4,"k":4},{"c":15,"r":4,"k":4},{"c":16,"r":4,"k":4},{"c":17,"r":4,"k":4},{"c":18,"r":4,"k":4},{"c":19,"r":4,"k":4},{"c":20,"r":4,"k":5},{"c":21,"r":4,"k":4},{"c":22,"r":4,"k":4},
{"c":0,"r":5,"k":4},{"c":1,"r":5,"k":4},{"c":2,"r":5,"k":3},{"c":3,"r":5,"k":3},{"c":4,"r":5,"k":3},{"c":5,"r":5,"k":4},{"c":6,"r":5,"k":4},{"c":7,"r":5,"k":4},{"c":8,"r":5,"k":4},{"c":9,"r":5,"k":5},{"c":10,"r":5,"k":3},{"c":11,"r":5,"k":5},{"c":12,"r":5,"k":5},{"c":13,"r":5,"k":4},{"c":14,"r":5,"k":4},{"c":15,"r":5,"k":4},{"c":16,"r":5,"k":4},{"c":17,"r":5,"k":4},{"c":18,"r":5,"k":4},{"c":19,"r":5,"k":4},{"c":20,"r":5,"k":4},{"c":21,"r":5,"k":4},{"c":22,"r":5,"k":4},
{"c":0,"r":6,"k":4},{"c":1,"r":6,"k":4},{"c":2,"r":6,"k":3},{"c":3,"r":6,"k":4},{"c":4,"r":6,"k":3},{"c":5,"r":6,"k":3},{"c":6,"r":6,"k":4},{"c":7,"r":6,"k":4},{"c":8,"r":6,"k":4},{"c":9,"r":6,"k":4},{"c":10,"r":6,"k":3},{"c":11,"r":6,"k":4},{"c":12,"r":6,"k":4},{"c":13,"r":6,"k":4},{"c":14,"r":6,"k":4},{"c":15,"r":6,"k":4},{"c":16,"r":6,"k":4},{"c":17,"r":6,"k":4},{"c":18,"r":6,"k":4},{"c":19,"r":6,"k":4},{"c":20,"r":6,"k":4},{"c":21,"r":6,"k":4},{"c":22,"r":6,"k":4},
{"c":0,"r":7,"k":3},{"c":1,"r":7,"k":4},{"c":2,"r":7,"k":3},{"c":3,"r":7,"k":4},{"c":4,"r":7,"k":4},{"c":5,"r":7,"k":3},{"c":6,"r":7,"k":4},{"c":7,"r":7,"k":4},{"c":8,"r":7,"k":4},{"c":9,"r":7,"k":4},{"c":10,"r":7,"k":4},{"c":11,"r":7,"k":4},{"c":12,"r":7,"k":4},{"c":13,"r":7,"k":4},{"c":14,"r":7,"k":4},{"c":15,"r":7,"k":4},{"c":16,"r":7,"k":4},{"c":17,"r":7,"k":4},{"c":18,"r":7,"k":4},{"c":19,"r":7,"k":4},{"c":20,"r":7,"k":4},{"c":21,"r":7,"k":4},{"c":22,"r":7,"k":4},
{"c":0,"r":8,"k":3},{"c":1,"r":8,"k":3},{"c":2,"r":8,"k":4},{"c":3,"r":8,"k":3},{"c":4,"r":8,"k":3},{"c":5,"r":8,"k":4},{"c":6,"r":8,"k":4},{"c":7,"r":8,"k":4},{"c":8,"r":8,"k":4},{"c":9,"r":8,"k":4},{"c":10,"r":8,"k":4},{"c":11,"r":8,"k":4},{"c":12,"r":8,"k":4},{"c":13,"r":8,"k":4},{"c":14,"r":8,"k":4},{"c":15,"r":8,"k":4},{"c":16,"r":8,"k":4},{"c":17,"r":8,"k":5},{"c":18,"r":8,"k":5},{"c":19,"r":8,"k":4},{"c":20,"r":8,"k":4},{"c":21,"r":8,"k":4},{"c":22,"r":8,"k":4},
{"c":0,"r":9,"k":3},{"c":1,"r":9,"k":3},{"c":2,"r":9,"k":3},{"c":3,"r":9,"k":3},{"c":4,"r":9,"k":3},{"c":5,"r":9,"k":4},{"c":6,"r":9,"k":4},{"c":7,"r":9,"k":4},{"c":8,"r":9,"k":4},{"c":9,"r":9,"k":4},{"c":10,"r":9,"k":4},{"c":11,"r":9,"k":4},{"c":12,"r":9,"k":4},{"c":13,"r":9,"k":4},{"c":14,"r":9,"k":4},{"c":15,"r":9,"k":4},{"c":16,"r":9,"k":5},{"c":17,"r":9,"k":5},{"c":18,"r":9,"k":5},{"c":19,"r":9,"k":5},{"c":20,"r":9,"k":4},{"c":21,"r":9,"k":4},{"c":22,"r":9,"k":4},
{"c":0,"r":10,"k":3},{"c":1,"r":10,"k":4},{"c":2,"r":10,"k":4},{"c":3,"r":10,"k":3},{"c":4,"r":10,"k":4},{"c":5,"r":10,"k":4},{"c":6,"r":10,"k":4},{"c":7,"r":10,"k":4},{"c":8,"r":10,"k":4},{"c":9,"r":10,"k":4},{"c":10,"r":10,"k":4},{"c":11,"r":10,"k":4},{"c":12,"r":10,"k":4},{"c":13,"r":10,"k":4},{"c":14,"r":10,"k":4},{"c":15,"r":10,"k":5},{"c":16,"r":10,"k":5},{"c":17,"r":10,"k":4},{"c":18,"r":10,"k":4},{"c":19,"r":10,"k":4},{"c":20,"r":10,"k":4},{"c":21,"r":10,"k":4},{"c":22,"r":10,"k":4},
{"c":0,"r":11,"k":4},{"c":1,"r":11,"k":4},{"c":2,"r":11,"k":4},{"c":3,"r":11,"k":3},{"c":4,"r":11,"k":4},{"c":5,"r":11,"k":4},{"c":6,"r":11,"k":4},{"c":7,"r":11,"k":4},{"c":8,"r":11,"k":4},{"c":9,"r":11,"k":4},{"c":10,"r":11,"k":4},{"c":11,"r":11,"k":4},{"c":12,"r":11,"k":4},{"c":13,"r":11,"k":4},{"c":14,"r":11,"k":4},{"c":15,"r":11,"k":4},{"c":16,"r":11,"k":5},{"c":17,"r":11,"k":5},{"c":18,"r":11,"k":5},{"c":19,"r":11,"k":5},{"c":20,"r":11,"k":4},{"c":21,"r":11,"k":4},{"c":22,"r":11,"k":4}],
"m1":[{"l":-0.02,"rt":11.13,"t":-0.245,"b":10.86},{"l":11.13,"rt":22.28,"t":-0.245,"b":10.86}],
"m2":[{"l":-0.05,"rt":11.09,"t":-0.245,"b":10.86},{"l":11.09,"rt":24.6,"t":-0.245,"b":10.86}],
"m3":[{"l":0.225,"rt":11.33,"t":-0.49,"b":10.59},{"l":11.33,"rt":22.44,"t":-0.49,"b":10.59}],
"m4":[{"l":0.22,"rt":11.37,"t":-0.49,"b":10.59},{"l":11.37,"rt":24.6,"t":-0.49,"b":10.59}],
"classes":[{"k":0},{"k":1},{"k":2},{"k":3},{"k":4},{"k":5}]},
"vconcat":[
{"spacing":0,"hconcat":[
{"width":530,"height":285,"layer":[
{"data":{"name":"p1"},"mark":{"type":"rect","width":22.33,"height":22.36,"stroke":"#9a9a9a","strokeWidth":0.6,"clip":true},"encoding":{"x":{"field":"c","type":"quantitative","axis":null,"scale":{"domain":[-0.917,22.82],"nice":false,"zero":false}},"y":{"field":"r","type":"quantitative","axis":null,"scale":{"domain":[11.8,-0.947],"nice":false,"zero":false}},"color":{"field":"k","type":"ordinal","legend":null,"scale":{"domain":[0,1,2,3,4,5],"range":["#ffffff","#cccccc","#999999","#666666","#333333","#000000"]}}}},
{"data":{"name":"m1"},"mark":{"type":"rect","fill":null,"stroke":"#e6e6e6","strokeWidth":3,"clip":true},"encoding":{"x":{"field":"l","type":"quantitative"},"x2":{"field":"rt"},"y":{"field":"t","type":"quantitative"},"y2":{"field":"b"}}},
{"data":{"values":[{"c":5.53,"r":5.0,"t":"MV_27"},{"c":16.64,"r":5.0,"t":"MV_28"}]},"mark":{"type":"text","font":"Liberation Sans","fontSize":16,"fontWeight":"bold","fontStyle":"italic","stroke":"white","strokeWidth":3,"strokeOpacity":0.9},"encoding":{"x":{"field":"c","type":"quantitative"},"y":{"field":"r","type":"quantitative"},"text":{"field":"t"}}},
{"data":{"values":[{"c":5.53,"r":5.0,"t":"MV_27"},{"c":16.64,"r":5.0,"t":"MV_28"}]},"mark":{"type":"text","font":"Liberation Sans","fontSize":16,"fontWeight":"bold","fontStyle":"italic","fill":"black"},"encoding":{"x":{"field":"c","type":"quantitative"},"y":{"field":"r","type":"quantitative"},"text":{"field":"t"}}},
{"data":{"values":[{"c":5.53,"r":5.76,"t":"(300.581 K)"},{"c":16.64,"r":5.76,"t":"(300.591 K)"}]},"mark":{"type":"text","font":"Liberation Sans","fontSize":16,"fontWeight":"bold","stroke":"white","strokeWidth":3,"strokeOpacity":0.9},"encoding":{"x":{"field":"c","type":"quantitative"},"y":{"field":"r","type":"quantitative"},"text":{"field":"t"}}},
{"data":{"values":[{"c":5.53,"r":5.76,"t":"(300.581 K)"},{"c":16.64,"r":5.76,"t":"(300.591 K)"}]},"mark":{"type":"text","font":"Liberation Sans","fontSize":16,"fontWeight":"bold","fill":"black"},"encoding":{"x":{"field":"c","type":"quantitative"},"y":{"field":"r","type":"quantitative"},"text":{"field":"t"}}},
{"data":{"values":[{"c":11.4,"r":9.56,"site":"Apple orchard"}]},"mark":{"type":"point","filled":false,"shape":"circle","size":110,"stroke":"#555555","strokeWidth":2.2,"strokeDash":[1.6,1.6]},"encoding":{"x":{"field":"c","type":"quantitative"},"y":{"field":"r","type":"quantitative"}}}
]},
{"width":508,"height":285,"layer":[
{"data":{"name":"p2"},"mark":{"type":"rect","width":22.3,"height":22.36,"stroke":"#9a9a9a","strokeWidth":0.6,"clip":true},"encoding":{"x":{"field":"c","type":"quantitative","axis":null,"scale":{"domain":[-0.948,21.83],"nice":false,"zero":false}},"y":{"field":"r","type":"quantitative","axis":null,"scale":{"domain":[11.8,-0.947],"nice":false,"zero":false}},"color":{"field":"k","type":"ordinal","legend":null,"scale":{"domain":[0,1,2,3,4,5],"range":["#ffffff","#cccccc","#999999","#666666","#333333","#000000"]}}}},
{"data":{"name":"m2"},"mark":{"type":"rect","fill":null,"stroke":"#e6e6e6","strokeWidth":3,"clip":true},"encoding":{"x":{"field":"l","type":"quantitative"},"x2":{"field":"rt"},"y":{"field":"t","type":"quantitative"},"y2":{"field":"b"}}},
{"data":{"values":[{"c":5.6,"r":5.0,"t":"MV_27"},{"c":16.67,"r":5.0,"t":"MV_28"}]},"mark":{"type":"text","font":"Liberation Sans","fontSize":16,"fontWeight":"bold","fontStyle":"italic","stroke":"white","strokeWidth":3,"strokeOpacity":0.9},"encoding":{"x":{"field":"c","type":"quantitative"},"y":{"field":"r","type":"quantitative"},"text":{"field":"t"}}},
{"data":{"values":[{"c":5.6,"r":5.0,"t":"MV_27"},{"c":16.67,"r":5.0,"t":"MV_28"}]},"mark":{"type":"text","font":"Liberation Sans","fontSize":16,"fontWeight":"bold","fontStyle":"italic","fill":"black"},"encoding":{"x":{"field":"c","type":"quantitative"},"y":{"field":"r","type":"quantitative"},"text":{"field":"t"}}},
{"data":{"values":[{"c":5.51,"r":5.76,"t":"(6.809 mm)"},{"c":16.67,"r":5.76,"t":"(6.81 mm)"}]},"mark":{"type":"text","font":"Liberation Sans","fontSize":16,"fontWeight":"bold","stroke":"white","strokeWidth":3,"strokeOpacity":0.9},"encoding":{"x":{"field":"c","type":"quantitative"},"y":{"field":"r","type":"quantitative"},"text":{"field":"t"}}},
{"data":{"values":[{"c":5.51,"r":5.76,"t":"(6.809 mm)"},{"c":16.67,"r":5.76,"t":"(6.81 mm)"}]},"mark":{"type":"text","font":"Liberation Sans","fontSize":16,"fontWeight":"bold","fill":"black"},"encoding":{"x":{"field":"c","type":"quantitative"},"y":{"field":"r","type":"quantitative"},"text":{"field":"t"}}},
{"data":{"values":[{"c":11.38,"r":9.56,"site":"Apple orchard"}]},"mark":{"type":"point","filled":false,"shape":"circle","size":110,"stroke":"#555555","strokeWidth":2.2,"strokeDash":[1.6,1.6]},"encoding":{"x":{"field":"c","type":"quantitative"},"y":{"field":"r","type":"quantitative"}}}
]}
]},
{"spacing":0,"hconcat":[
{"width":530,"height":278,"layer":[
{"data":{"name":"p3"},"mark":{"type":"rect","width":22.33,"height":22.33,"stroke":"#5e5e5e","strokeWidth":0.6,"clip":true},"encoding":{"x":{"field":"c","type":"quantitative","axis":null,"scale":{"domain":[-0.805,22.93],"nice":false,"zero":false}},"y":{"field":"r","type":"quantitative","axis":null,"scale":{"domain":[11.58,-0.872],"nice":false,"zero":false}},"color":{"field":"k","type":"ordinal","legend":null,"scale":{"domain":[0,1,2,3,4,5],"range":["#ffffff","#cccccc","#999999","#666666","#333333","#000000"]}}}},
{"data":{"name":"m3"},"mark":{"type":"rect","fill":null,"stroke":"#e6e6e6","strokeWidth":3,"clip":true},"encoding":{"x":{"field":"l","type":"quantitative"},"x2":{"field":"rt"},"y":{"field":"t","type":"quantitative"},"y2":{"field":"b"}}},
{"data":{"values":[{"c":5.78,"r":4.5,"t":"IH_40"},{"c":16.88,"r":4.5,"t":"IH_41"}]},"mark":{"type":"text","font":"Liberation Sans","fontSize":16,"fontWeight":"bold","fontStyle":"italic","fill":"white"},"encoding":{"x":{"field":"c","type":"quantitative"},"y":{"field":"r","type":"quantitative"},"text":{"field":"t"}}},
{"data":{"values":[{"c":5.78,"r":5.31,"t":"(310.424 K)"},{"c":16.88,"r":5.31,"t":"(311.315 K)"}]},"mark":{"type":"text","font":"Liberation Sans","fontSize":16,"fontWeight":"bold","fill":"white"},"encoding":{"x":{"field":"c","type":"quantitative"},"y":{"field":"r","type":"quantitative"},"text":{"field":"t"}}},
{"data":{"values":[{"c":11.02,"r":5.08,"site":"Wheat field"}]},"mark":{"type":"point","filled":false,"shape":"M0,-1.8L1,0L0,1.8L-1,0Z","size":100,"stroke":"white","strokeWidth":1},"encoding":{"x":{"field":"c","type":"quantitative"},"y":{"field":"r","type":"quantitative"}}}
]},
{"width":508,"height":278,"layer":[
{"data":{"name":"p4"},"mark":{"type":"rect","width":22.3,"height":22.33,"stroke":"#5e5e5e","strokeWidth":0.6,"clip":true},"encoding":{"x":{"field":"c","type":"quantitative","axis":null,"scale":{"domain":[-0.679,22.1],"nice":false,"zero":false}},"y":{"field":"r","type":"quantitative","axis":null,"scale":{"domain":[11.58,-0.872],"nice":false,"zero":false}},"color":{"field":"k","type":"ordinal","legend":null,"scale":{"domain":[0,1,2,3,4,5],"range":["#ffffff","#cccccc","#999999","#666666","#333333","#000000"]}}}},
{"data":{"name":"m4"},"mark":{"type":"rect","fill":null,"stroke":"#e6e6e6","strokeWidth":3,"clip":true},"encoding":{"x":{"field":"l","type":"quantitative"},"x2":{"field":"rt"},"y":{"field":"t","type":"quantitative"},"y2":{"field":"b"}}},
{"data":{"values":[{"c":5.78,"r":4.5,"t":"IH_40"},{"c":16.9,"r":4.5,"t":"IH_41"}]},"mark":{"type":"text","font":"Liberation Sans","fontSize":16,"fontWeight":"bold","fontStyle":"italic","fill":"white"},"encoding":{"x":{"field":"c","type":"quantitative"},"y":{"field":"r","type":"quantitative"},"text":{"field":"t"}}},
{"data":{"values":[{"c":5.78,"r":5.31,"t":"(6.623 mm)"},{"c":16.9,"r":5.31,"t":"(6.369 mm)"}]},"mark":{"type":"text","font":"Liberation Sans","fontSize":16,"fontWeight":"bold","fill":"white"},"encoding":{"x":{"field":"c","type":"quantitative"},"y":{"field":"r","type":"quantitative"},"text":{"field":"t"}}},
{"data":{"values":[{"c":11.07,"r":5.08,"site":"Wheat field"}]},"mark":{"type":"point","filled":false,"shape":"M0,-1.8L1,0L0,1.8L-1,0Z","size":100,"stroke":"white","strokeWidth":1},"encoding":{"x":{"field":"c","type":"quantitative"},"y":{"field":"r","type":"quantitative"}}}
]}
]},
{"spacing":0,"hconcat":[
{"width":536,"height":130,"resolve":{"scale":{"color":"independent","x":"shared","y":"shared"}},"layer":[
{"data":{"name":"classes"},"transform":[{"filter":"false"}],"mark":{"type":"rect"},"encoding":{"color":{"field":"k","type":"ordinal","scale":{"domain":[0,1,2,3,4,5],"range":["#ffffff","#cccccc","#999999","#666666","#333333","#000000"]},"legend":{"title":"LST (K) in ASTER pixel","orient":"none","legendX":8,"legendY":10,"symbolType":"M-1.07,-1.07H3.43V1.07H-1.07Z","symbolSize":196,"symbolStrokeColor":"#cfcfcf","symbolStrokeWidth":1,"symbolOpacity":1,"rowPadding":-4,"labelOffset":24,"labelFontSize":13,"labelColor":"#333333","titleFontSize":13,"titleFontWeight":"normal","titleColor":"#333333","titlePadding":7,"labelExpr":"['294.287 - 297.270','297.271 - 300.254','300.255 - 303.237','303.238 - 306.220','306.221 - 309.204','309.205 - 312.187'][datum.value]"}}}},
{"data":{"name":"classes"},"transform":[{"filter":"false"}],"mark":{"type":"rect"},"encoding":{"color":{"field":"k","type":"ordinal","scale":{"domain":[0,1,2,3,4,5],"range":["#ffffff","#cccccc","#999999","#666666","#333333","#000000"]},"legend":{"title":"ET (mm) in ASTER pixel","orient":"none","legendX":173,"legendY":10,"symbolType":"M-1.07,-1.07H3.43V1.07H-1.07Z","symbolSize":196,"symbolStrokeColor":"#cfcfcf","symbolStrokeWidth":1,"symbolOpacity":1,"rowPadding":-4,"labelOffset":24,"labelFontSize":13,"labelColor":"#333333","titleFontSize":13,"titleFontWeight":"normal","titleColor":"#333333","titlePadding":7,"labelExpr":"['5.702 - 5.821','5.822 - 6.280','6.281 - 6.739','6.740 - 7.198','7.199 - 7.657','7.658 - 7.838'][datum.value]"}}}},
{"data":{"values":[{"item":"Apple orchard"},{"item":"Wheat field"},{"item":"MODIS pixels"}]},"transform":[{"filter":"false"}],"mark":{"type":"point","filled":false},"encoding":{"shape":{"field":"item","type":"nominal","scale":{"domain":["Apple orchard","Wheat field","MODIS pixels"],"range":["circle","M0,-1.1L0.7,0L0,1.1L-0.7,0ZM0,-0.6L0.35,0L0,0.6L-0.35,0Z","M-2.1,-1H2.1V1H-2.1Z"]},"legend":{"title":null,"orient":"none","legendX":342,"legendY":571,"symbolSize":225,"rowPadding":0.5,"labelOffset":17,"labelFontSize":13,"labelColor":"#333333","symbolOpacity":1}},"stroke":{"field":"item","type":"nominal","scale":{"domain":["Apple orchard","Wheat field","MODIS pixels"],"range":["#777777","#000000","#e0e0e0"]},"legend":null},"strokeDash":{"field":"item","type":"nominal","scale":{"domain":["Apple orchard","Wheat field","MODIS pixels"],"range":[[1.6,1.6],[1,0],[1,0]]},"legend":null},"strokeWidth":{"field":"item","type":"ordinal","scale":{"domain":["Apple orchard","Wheat field","MODIS pixels"],"range":[2.2,1.5,3]},"legend":null}}},
{"data":{"values":[{"e":0.927,"n":0.31}]},"mark":{"type":"point","filled":false,"shape":"M-1.05,-1.35L0,-2.13L1.05,-1.35M0,-2.13L0,-1M1,0A1,1 0 1,1 -1,0A1,1 0 1,1 1,0M0,1L0,1.8","size":900,"stroke":"black","strokeWidth":3,"opacity":1},"encoding":{"x":{"field":"e","type":"quantitative","axis":null,"scale":{"domain":[0,1],"nice":false,"zero":false}},"y":{"field":"n","type":"quantitative","axis":null,"scale":{"domain":[1,0],"nice":false,"zero":false}}}},
{"data":{"values":[{"e":0.927,"n":0.31,"t":"N"}]},"mark":{"type":"text","font":"Liberation Serif","fontWeight":"bold","fontSize":19,"fill":"black"},"encoding":{"x":{"field":"e","type":"quantitative"},"y":{"field":"n","type":"quantitative"},"text":{"field":"t"}}}
]},
{"width":372.7,"height":130,"data":{"values":[{"m":0}]},"mark":{"type":"rule","opacity":0},"encoding":{"x":{"field":"m","type":"quantitative","scale":{"domain":[0,1500],"nice":false,"zero":false},"axis":{"orient":"top","offset":-52.7,"title":null,"grid":false,"values":[0,187.5,375,562.5,750,937.5,1125,1312.5,1500],"tickSize":{"expr":"datum.value==0||datum.value==750||datum.value==1500?10:7"},"tickColor":"#333333","tickWidth":1.2,"domainColor":"#444444","domainWidth":1.3,"labelPadding":{"expr":"datum.value==375?7:4"},"labelFontSize":13,"labelColor":"#333333","labelFlush":false,"labelOverlap":false,"labelExpr":"datum.value==0?'0':datum.value==375?'375':datum.value==750?'750':datum.value==1500?'1,500 Meters':''","labelAlign":{"expr":"datum.value==1500?'left':'center'"},"labelOffset":{"expr":"datum.value==1500?-16.6:0"}}}}}
]}
]}
